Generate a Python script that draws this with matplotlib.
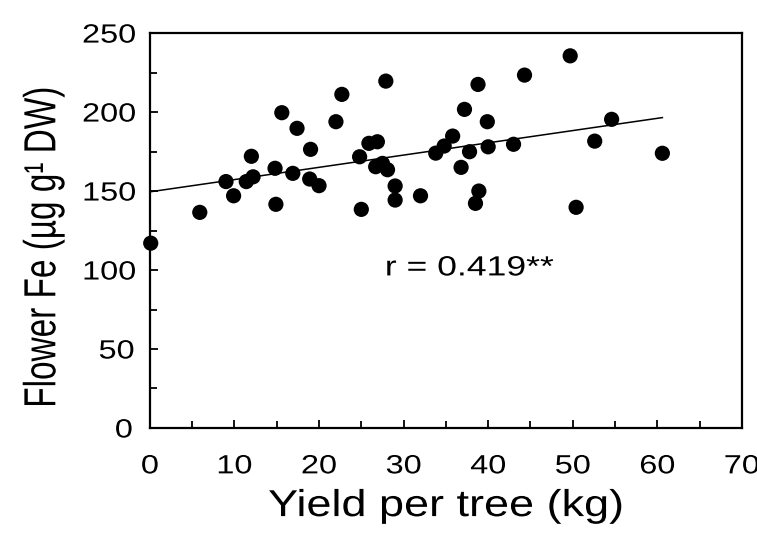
import matplotlib
matplotlib.use("Agg")
import matplotlib.pyplot as plt
from matplotlib.ticker import MultipleLocator
from matplotlib.patheffects import AbstractPathEffect
from matplotlib.transforms import Affine2D

plt.rcParams['font.family'] = ['Liberation Sans', 'DejaVu Sans']

# yield per tree (kg) and flower Fe (ug/g DW) for each tree
yield_kg = [0.1, 5.9, 9.0, 9.9, 11.4, 12.2, 12.0, 14.9, 14.8, 15.6,
            16.9, 17.4, 19.0, 18.9, 20.0, 22.0, 22.7, 25.0, 24.8, 25.9,
            26.9, 26.7, 27.5, 28.1, 27.9, 29.0, 29.0, 32.0, 33.8, 34.8,
            35.8, 36.8, 37.2, 37.8, 38.5, 38.9, 38.8, 39.9, 40.0, 43.0,
            44.3, 49.7, 50.4, 52.6, 54.6, 60.6]
flower_fe = [117, 136.5, 156, 147, 156, 159, 172, 141.6, 164.4, 199.6,
             161.2, 189.7, 176.4, 157.6, 153.4, 193.9, 211.2, 138.4, 171.7, 180.2,
             181.2, 165.4, 167.5, 163.5, 219.6, 153.2, 144.3, 147.0, 174.0, 178.5,
             184.8, 165.0, 201.7, 174.9, 142.2, 150.0, 217.5, 193.9, 178.0, 179.6,
             223.4, 235.6, 139.7, 181.6, 195.4, 173.9]

# regression line end points
fit_x = [0, 60.6]
fit_y = [149.5, 196.5]


class Stretch(AbstractPathEffect):
    """Widen glyphs about the centre of the string (font units)."""
    def __init__(self, sx=1.0, sy=1.0):
        super().__init__()
        self.sx, self.sy = sx, sy

    def draw_path(self, renderer, gc, tpath, affine, rgbFace=None):
        ext = tpath.get_extents()
        cx, cy = (ext.x0 + ext.x1) / 2, (ext.y0 + ext.y1) / 2
        t = Affine2D().translate(-cx, -cy).scale(self.sx, self.sy).translate(cx, cy) + affine
        renderer.draw_path(gc, tpath, t, rgbFace)


fig = plt.figure(figsize=(7.57, 5.38), dpi=100)
ax = fig.add_axes([0.198, 0.2045, 0.782, 0.734])

ax.plot(fit_x, fit_y, color='black', lw=1.1, zorder=2)
ax.scatter(yield_kg, flower_fe, s=120, color='black', edgecolors='none',
           zorder=3, clip_on=False)

ax.text(37.8, 101, 'r = 0.419**', ha='center', va='center', fontsize=20,
        path_effects=[Stretch(1.28)])

ax.set_xlim(0, 70)
ax.set_ylim(0, 250)
ax.xaxis.set_major_locator(MultipleLocator(10))
ax.xaxis.set_minor_locator(MultipleLocator(5))
ax.yaxis.set_major_locator(MultipleLocator(50))
ax.yaxis.set_minor_locator(MultipleLocator(25))

ax.tick_params(which='both', direction='in', top=False, right=False, width=1.3)
ax.tick_params(which='major', length=6)
ax.tick_params(which='minor', length=5)
ax.tick_params(axis='x', which='major', pad=19, labelsize=19)
ax.tick_params(axis='y', which='major', pad=13.5, labelsize=19)

for lab in ax.get_xticklabels() + ax.get_yticklabels():
    lab.set_path_effects([Stretch(1.23)])

for sp in ax.spines.values():
    sp.set_linewidth(1.6)

ax.set_xlabel('Yield per tree (kg)', fontsize=27, labelpad=7,
              path_effects=[Stretch(1.2)])
ax.set_ylabel('Flower Fe (µg g¹ DW)', fontsize=24,
              path_effects=[Stretch(1.0, 1.35)])
ax.yaxis.set_label_coords(-0.153, 0.458)

fig.savefig('out.png', dpi=100)
